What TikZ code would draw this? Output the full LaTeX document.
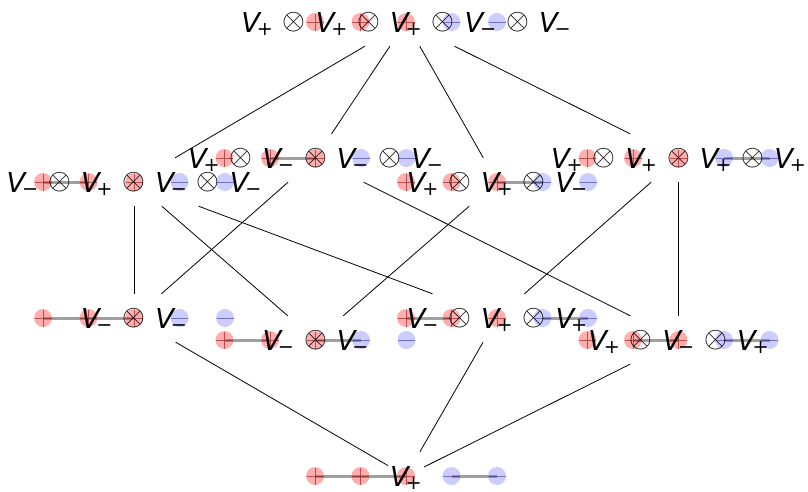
\documentclass[tikz,border=0pt]{standalone}
\usepackage{fontspec}
\setmainfont{DejaVu Sans}
\newfontface\oblq{DejaVu Sans Oblique}
\newcommand\Vs[1]{{\oblq V}\kern-0.12em\raisebox{-3.2pt}{\fontsize{19.2}{20}\selectfont #1}}
\newcommand\ot{\hspace{0.365em}\raisebox{3.0pt}{\resizebox*{!}{19.6pt}{$\otimes$}}\hspace{0.365em}}
\tikzset{
  lbl/.style={font=\fontsize{27.4}{30}\selectfont, text height=22pt, text depth=2pt, inner ysep=12pt, inner xsep=2pt},
  edge/.style={line width=0.8pt, black},
  redpt/.style={fill=red, fill opacity=0.32, draw=none},
  bluept/.style={fill=blue, fill opacity=0.2, draw=none},
  pairln/.style={line width=3pt, draw=gray, opacity=0.75},
  pmark/.style={line width=0.6pt, draw=red!50!black, opacity=0.55},
  mmark/.style={line width=0.6pt, draw=blue!50!black, opacity=0.45}
}
\newcommand\dotrow[2]{%
  \foreach \k in {1,2,3}{\fill[redpt] ({#1+(\k-3)*45.5},{#2}) circle[radius=9pt];}
  \foreach \k in {4,5}{\fill[bluept] ({#1+(\k-3)*45.5},{#2}) circle[radius=9pt];}
}
\newcommand\arcline[4]{\draw[pairln] ({#1+(#3-3)*45.5},{#2}) -- ({#1+(#4-3)*45.5},{#2});}
\newcommand\ptmarks[2]{%
  \foreach \k in {1,2,3}{\draw[pmark] ({#1+(\k-3)*45.5-8.5},{#2}) -- ++(17,0) ({#1+(\k-3)*45.5},{#2-8.5}) -- ++(0,17);}
  \foreach \k in {4,5}{\draw[mmark] ({#1+(\k-3)*45.5-8.5},{#2}) -- ++(17,0);}
}
\begin{document}
\begin{tikzpicture}[x=1pt,y=-1pt]
\useasboundingbox[fill=white] (0,0) rectangle (808,491);
% decorations
\dotrow{406}{22}
\dotrow{134}{182}
\dotrow{315.5}{158}
\dotrow{497}{182}
\dotrow{678.5}{158}
\dotrow{134}{318}
\dotrow{315.5}{340}
\dotrow{497}{318}
\dotrow{678.5}{340}
\dotrow{406}{476}
\arcline{134}{182}{1}{2}
\arcline{315.5}{158}{2}{3}
\arcline{497}{182}{3}{4}
\arcline{678.5}{158}{4}{5}
\arcline{134}{318}{1}{2}
\arcline{134}{318}{2}{3}
\arcline{315.5}{340}{1}{2}
\arcline{315.5}{340}{3}{4}
\arcline{497}{318}{1}{2}
\arcline{497}{318}{4}{5}
\arcline{678.5}{340}{2}{3}
\arcline{678.5}{340}{4}{5}
\arcline{406}{476}{1}{2}
\arcline{406}{476}{2}{3}
\arcline{406}{476}{4}{5}
\ptmarks{406}{22}
\ptmarks{134}{182}
\ptmarks{315.5}{158}
\ptmarks{497}{182}
\ptmarks{678.5}{158}
\ptmarks{134}{318}
\ptmarks{315.5}{340}
\ptmarks{497}{318}
\ptmarks{678.5}{340}
\ptmarks{406}{476}
% labels
\node[lbl] (T) at (406,22) {\Vs{+}\ot\Vs{+}\ot\Vs{+}\ot\Vs{−}\ot\Vs{−}};
\node[lbl] (A) at (134,182) {\Vs{−}\ot\Vs{+}\ot\Vs{−}\ot\Vs{−}};
\node[lbl] (B) at (315.5,158) {\Vs{+}\ot\Vs{−}\ot\Vs{−}\ot\Vs{−}};
\node[lbl] (C) at (497,182) {\Vs{+}\ot\Vs{+}\ot\Vs{−}};
\node[lbl] (D) at (678.5,158) {\Vs{+}\ot\Vs{+}\ot\Vs{+}\ot\Vs{+}};
\node[lbl] (E) at (134,318) {\Vs{−}\ot\Vs{−}};
\node[lbl] (F) at (315.5,340) {\Vs{−}\ot\Vs{−}};
\node[lbl] (G) at (497,318) {\Vs{−}\ot\Vs{+}\ot\Vs{+}};
\node[lbl] (H) at (678.5,340) {\Vs{+}\ot\Vs{−}\ot\Vs{+}};
\node[lbl] (I) at (406,476) {\Vs{+}};
% edges
\draw[edge] (T) -- (A);
\draw[edge] (T) -- (B);
\draw[edge] (T) -- (C);
\draw[edge] (T) -- (D);
\draw[edge] (A) -- (E);
\draw[edge] (A) -- (F);
\draw[edge] (A) -- (G);
\draw[edge] (B) -- (E);
\draw[edge] (B) -- (H);
\draw[edge] (C) -- (F);
\draw[edge] (D) -- (G);
\draw[edge] (D) -- (H);
\draw[edge] (E) -- (I);
\draw[edge] (G) -- (I);
\draw[edge] (H) -- (I);
\end{tikzpicture}
\end{document}
